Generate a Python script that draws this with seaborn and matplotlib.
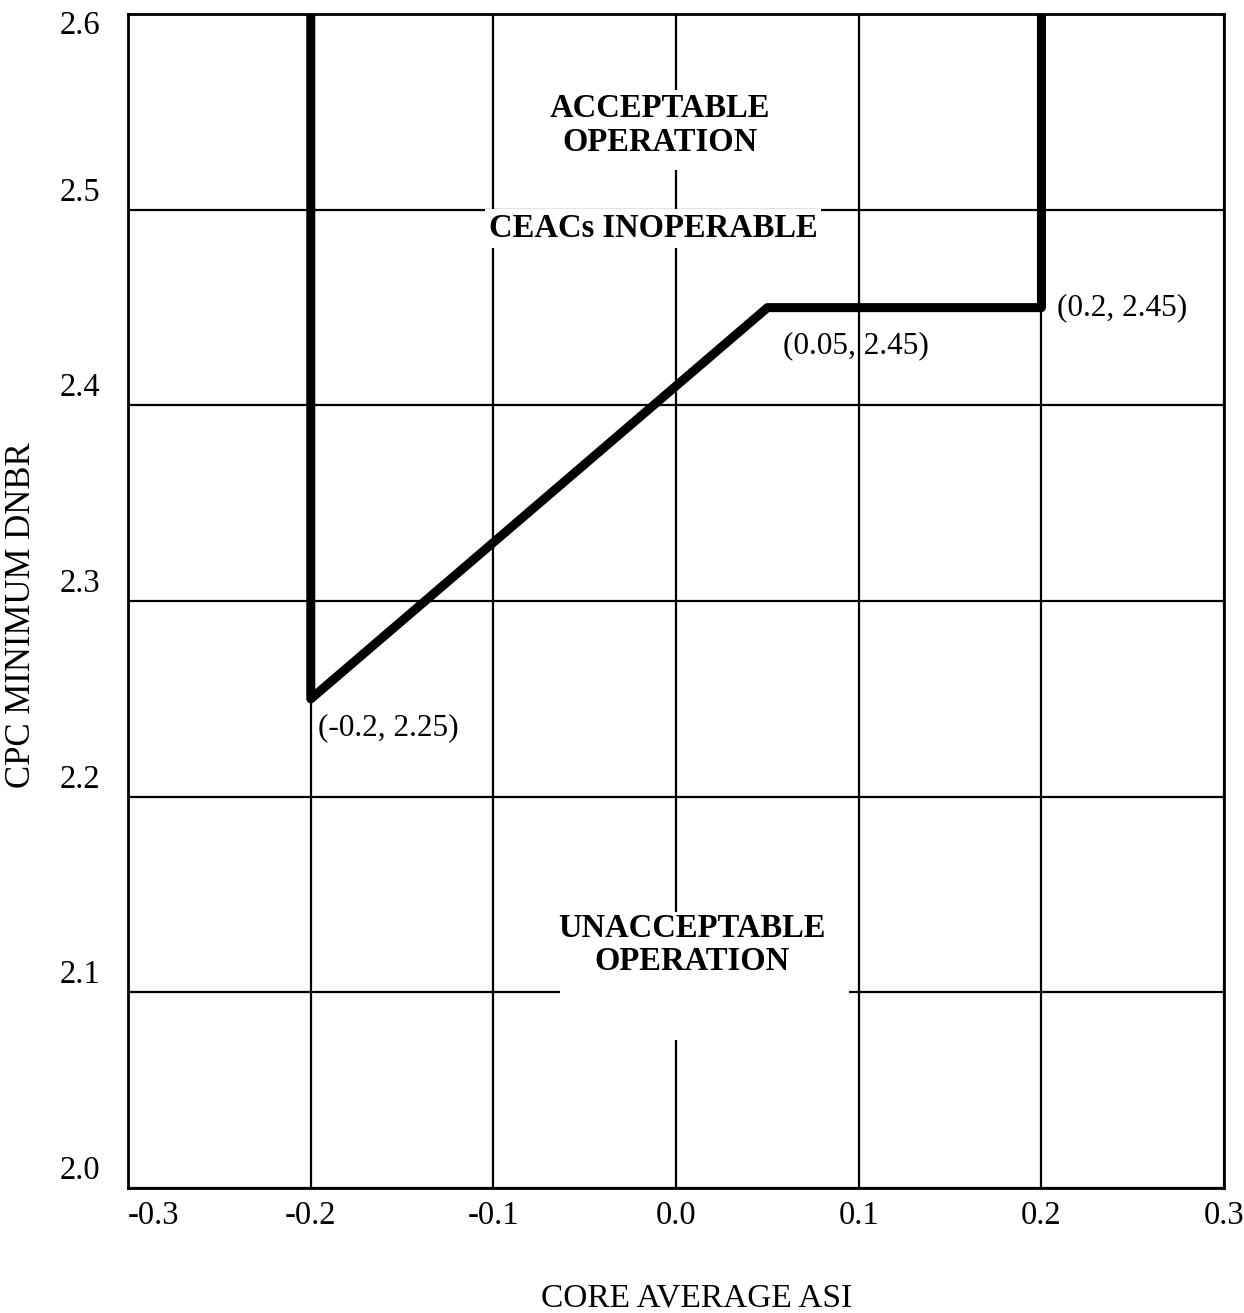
import matplotlib
matplotlib.use("Agg")
import matplotlib.pyplot as plt
import matplotlib.transforms as mtransforms
from matplotlib.patches import Rectangle
import seaborn as sns
import pandas as pd

# Limit line: CPC minimum DNBR versus core average ASI (CEACs inoperable)
asi = [-0.2, -0.2, 0.05, 0.2, 0.2]
dnbr = [2.6, 2.25, 2.45, 2.45, 2.6]

x_ticks = [-0.3, -0.2, -0.1, 0.0, 0.1, 0.2, 0.3]
x_tick_labels = ["-0.3", "-0.2", "-0.1", "0.0", "0.1", "0.2", "0.3"]
y_ticks = [2.0, 2.1, 2.2, 2.3, 2.4, 2.5, 2.6]
y_tick_labels = ["2.0", "2.1", "2.2", "2.3", "2.4", "2.5", "2.6"]

# Labelled break points of the limit line
corner_points = [(-0.2, 2.25), (0.05, 2.45), (0.2, 2.45)]
corner_labels = ["(-0.2, 2.25)", "(0.05, 2.45)", "(0.2, 2.45)"]

sns.set_theme(style="white")
plt.rcParams["font.family"] = ["Liberation Serif", "DejaVu Serif"]

fig = plt.figure(figsize=(12.44, 13.13), dpi=100)
ax = fig.add_axes([0.103, 0.0952, 0.881, 0.894])

df = pd.DataFrame({"asi": asi, "dnbr": dnbr})
sns.lineplot(data=df, x="asi", y="dnbr", sort=False, estimator=None,
             color="black", linewidth=6.5, ax=ax, zorder=4,
             solid_joinstyle="round", solid_capstyle="butt")

ax.set_xlim(-0.3, 0.3)
ax.set_ylim(2.0, 2.6)
ax.set_xticks(x_ticks)
ax.set_xticklabels(x_tick_labels)
ax.set_yticks(y_ticks)
ax.set_yticklabels(y_tick_labels)

ax.set_axisbelow(True)
ax.grid(True, color="black", linewidth=1.6)
for s in ax.spines.values():
    s.set_color("black")
    s.set_linewidth(2.0)

ax.tick_params(axis="both", length=0, labelsize=23.5, colors="black")
ax.tick_params(axis="x", pad=9)
ax.tick_params(axis="y", pad=20)

# White panels behind the region captions
ax.add_patch(Rectangle((-0.069, 2.5203), 0.1232, 0.0409, facecolor="white",
                       edgecolor="none", zorder=1))
ax.add_patch(Rectangle((-0.0635, 2.0756), 0.1582, 0.0655, facecolor="white",
                       edgecolor="none", zorder=1))

cap_font = dict(fontsize=23.5, fontweight="bold", color="black",
                ha="center", va="center", linespacing=1.12, zorder=3)
ax.text(-0.009, 2.5433, "ACCEPTABLE\nOPERATION", **cap_font)
ax.text(0.0088, 2.1242, "UNACCEPTABLE\nOPERATION", **cap_font)
ax.text(-0.0126, 2.4905, "CEACs INOPERABLE",
        bbox=dict(facecolor="white", edgecolor="none", boxstyle="square,pad=0.12"),
        **cap_font)

# Corner annotations
offsets = [(5, -10), (11, -17), (11, 0)]
valigns = ["top", "top", "center"]
for (px, py), lab, off, va in zip(corner_points, corner_labels, offsets, valigns):
    ax.annotate(lab, xy=(px, py), xytext=off, textcoords="offset points",
                ha="left", va=va, fontsize=22.5, color="black", zorder=5)

ax.set_xlabel("CORE AVERAGE ASI", fontsize=24, color="black")
ax.set_ylabel("CPC MINIMUM DNBR", fontsize=25, color="black")
ax.xaxis.set_label_coords(0.519, -0.081)
ax.yaxis.set_label_coords(-0.082, 0.488)

# Y tick labels sit just above their grid lines
up = mtransforms.ScaledTranslation(0, 9 / 100, fig.dpi_scale_trans)
top_shift = mtransforms.ScaledTranslation(0, 4 / 100, fig.dpi_scale_trans)
for lab in ax.get_yticklabels():
    if lab.get_text() == "2.6":
        lab.set_verticalalignment("top")
        lab.set_transform(lab.get_transform() + top_shift)
    else:
        lab.set_verticalalignment("baseline")
        lab.set_transform(lab.get_transform() + up)
for lab in ax.get_xticklabels():
    if lab.get_text() == "-0.3":
        lab.set_horizontalalignment("left")

fig.savefig("out.png", dpi=100, facecolor="white")
